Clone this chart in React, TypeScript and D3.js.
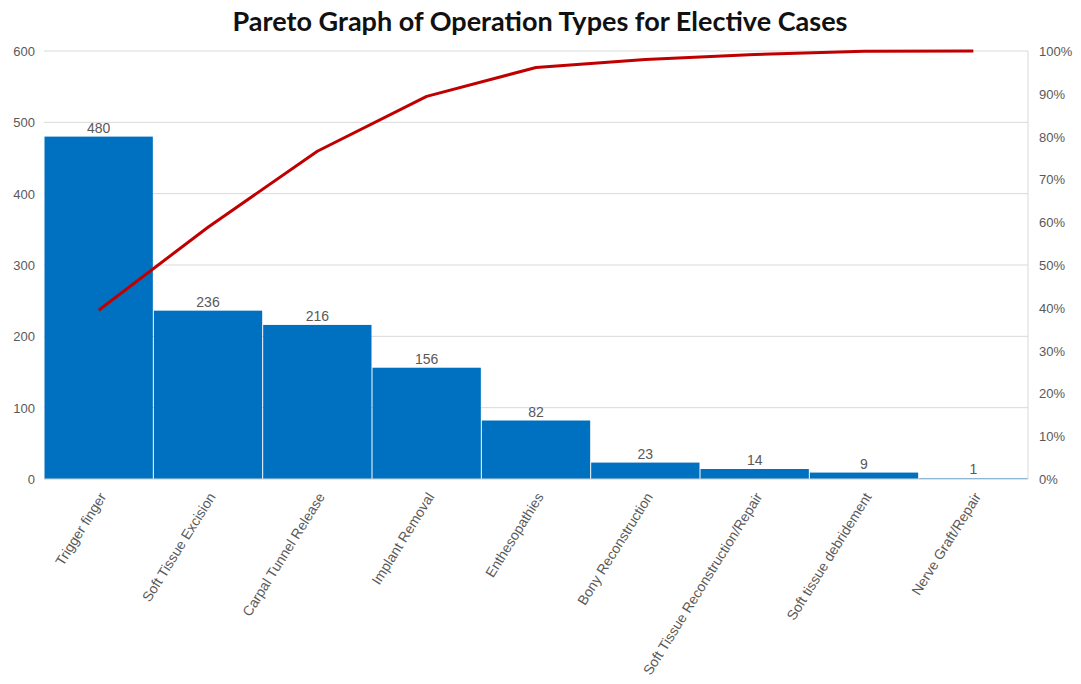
import React from "react";
import * as d3 from "d3";

const categories = [
  "Trigger finger",
  "Soft Tissue Excision",
  "Carpal Tunnel Release",
  "Implant Removal",
  "Enthesopathies",
  "Bony Reconstruction",
  "Soft Tissue Reconstruction/Repair",
  "Soft tissue debridement",
  "Nerve Graft/Repair",
];
const counts = [480, 236, 216, 156, 82, 23, 14, 9, 1];
const leftTicks = [0, 100, 200, 300, 400, 500, 600];
const rightTicks = [0, 0.1, 0.2, 0.3, 0.4, 0.5, 0.6, 0.7, 0.8, 0.9, 1.0];

const W = 1081;
const H = 684;
const M = { left: 44, right: 1028, top: 51, bottom: 479 };

export default function App() {
  const x = d3.scaleBand<string>().domain(categories).range([M.left, M.right]).padding(0);
  const y = d3.scaleLinear().domain([0, 600]).range([M.bottom, M.top]);
  const yP = d3.scaleLinear().domain([0, 1]).range([M.bottom, M.top]);
  const total = d3.sum(counts);
  const cum = Array.from(d3.cumsum(counts)).map((v) => v / total);
  const line = d3
    .line<number>()
    .x((_, i) => (x(categories[i]) as number) + x.bandwidth() / 2)
    .y((d) => yP(d));
  const font = "'Liberation Sans', Arial, sans-serif";
  return (
    <svg width={W} height={H} style={{ position: "absolute", left: 0, top: 0, background: "#fff" }}>
      <text x={540} y={31} textAnchor="middle" fontFamily="Lato, sans-serif" fontWeight="bold" fontSize={27} fill="#111" textLength={615} lengthAdjust="spacingAndGlyphs">
        Pareto Graph of Operation Types for Elective Cases
      </text>
      {leftTicks.map((t) => (
        <line key={"g" + t} x1={M.left} x2={M.right} y1={y(t)} y2={y(t)} stroke="#d9d9d9" strokeWidth={1} />
      ))}
      <line x1={M.right} x2={M.right} y1={M.top} y2={M.bottom} stroke="#d9d9d9" strokeWidth={1} />
      {categories.map((c, i) => (
        <rect
          key={c}
          x={(x(c) as number) + 0.5}
          y={y(counts[i])}
          width={x.bandwidth() - 1}
          height={M.bottom - y(counts[i])}
          fill="#0070C0"
        />
      ))}
      <line x1={M.left} x2={M.right} y1={M.bottom} y2={M.bottom} stroke="#d9d9d9" strokeWidth={1} />
      {categories.map((c, i) => (
        <text
          key={"l" + c}
          x={(x(c) as number) + x.bandwidth() / 2}
          y={y(counts[i]) - 4}
          textAnchor="middle"
          fontFamily={font}
          fontSize={14}
          fill="#595959"
        >
          {counts[i]}
        </text>
      ))}
      <path d={line(cum) || ""} fill="none" stroke="#C00000" strokeWidth={3} strokeLinejoin="round" />
      {leftTicks.map((t) => (
        <text key={"lt" + t} x={35} y={y(t) + 5} textAnchor="end" fontFamily={font} fontSize={13} fill="#595959">
          {t}
        </text>
      ))}
      {rightTicks.map((t) => (
        <text key={"rt" + t} x={1039} y={yP(t) + 5} textAnchor="start" fontFamily={font} fontSize={13} fill="#595959">
          {d3.format(".0%")(t)}
        </text>
      ))}
      {categories.map((c) => {
        const cx = (x(c) as number) + x.bandwidth() / 2 + 4;
        const cy = 494;
        return (
          <text
            key={"c" + c}
            transform={`translate(${cx},${cy}) rotate(-58)`}
            textAnchor="end"
            fontFamily={font}
            fontSize={14}
            fill="#595959"
            dy="0.35em"
          >
            {c}
          </text>
        );
      })}
    </svg>
  );
}
